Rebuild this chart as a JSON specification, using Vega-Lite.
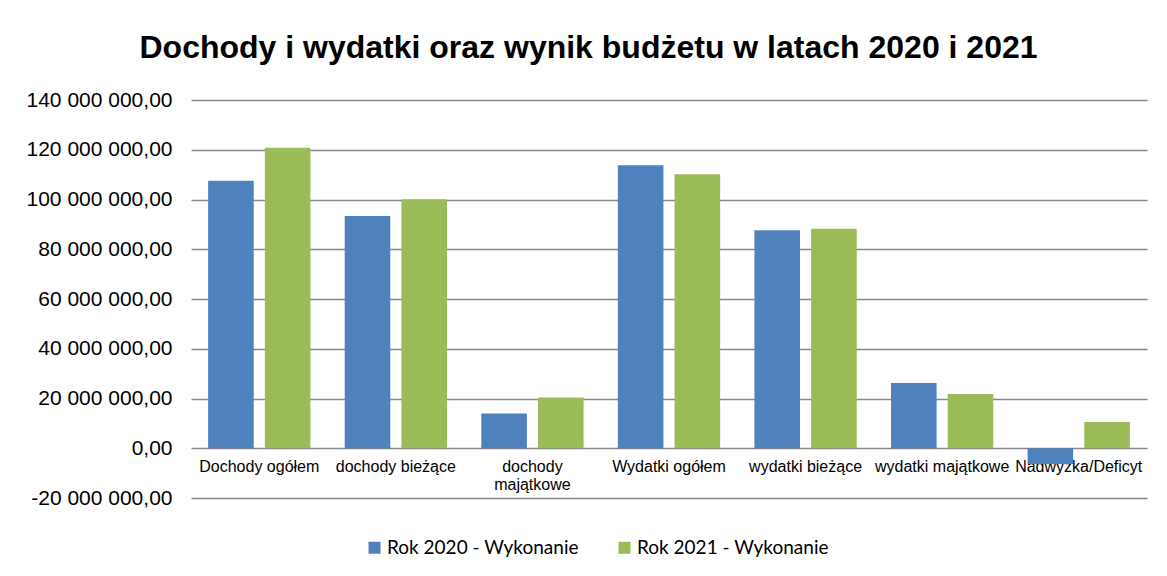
{
  "$schema": "https://vega.github.io/schema/vega-lite/v6.json",
  "autosize": {"type": "none"},
  "width": 956,
  "height": 398,
  "padding": {"left": 191, "top": 100, "right": 20, "bottom": 78},
  "background": "white",
  "title": {
    "text": "Dochody i wydatki oraz wynik budżetu w latach 2020 i 2021",
    "font": "Liberation Sans",
    "fontSize": 32,
    "fontWeight": "bold",
    "color": "#000000",
    "anchor": "middle",
    "frame": "bounds",
    "baseline": "alphabetic",
    "offset": -1,
    "dx": 2
  },
  "config": {
    "locale": {
      "number": {"decimal": ",", "thousands": " ", "grouping": [3], "currency": ["", ""], "minus": "-"}
    },
    "view": {"stroke": null}
  },
  "data": {
    "values": [
      {"kategoria": "Dochody ogółem", "seria": "Rok 2020  - Wykonanie", "wartosc": 107500000},
      {"kategoria": "Dochody ogółem", "seria": "Rok 2021 - Wykonanie", "wartosc": 120800000},
      {"kategoria": "dochody bieżące", "seria": "Rok 2020  - Wykonanie", "wartosc": 93400000},
      {"kategoria": "dochody bieżące", "seria": "Rok 2021 - Wykonanie", "wartosc": 100100000},
      {"kategoria": "dochody majątkowe", "seria": "Rok 2020  - Wykonanie", "wartosc": 14000000},
      {"kategoria": "dochody majątkowe", "seria": "Rok 2021 - Wykonanie", "wartosc": 20400000},
      {"kategoria": "Wydatki ogółem", "seria": "Rok 2020  - Wykonanie", "wartosc": 113800000},
      {"kategoria": "Wydatki ogółem", "seria": "Rok 2021 - Wykonanie", "wartosc": 110200000},
      {"kategoria": "wydatki bieżące", "seria": "Rok 2020  - Wykonanie", "wartosc": 87600000},
      {"kategoria": "wydatki bieżące", "seria": "Rok 2021 - Wykonanie", "wartosc": 88200000},
      {"kategoria": "wydatki majątkowe", "seria": "Rok 2020  - Wykonanie", "wartosc": 26200000},
      {"kategoria": "wydatki majątkowe", "seria": "Rok 2021 - Wykonanie", "wartosc": 21800000},
      {"kategoria": "Nadwyżka/Deficyt", "seria": "Rok 2020  - Wykonanie", "wartosc": -6300000},
      {"kategoria": "Nadwyżka/Deficyt", "seria": "Rok 2021 - Wykonanie", "wartosc": 10600000}
    ]
  },
  "mark": {"type": "bar"},
  "encoding": {
    "x": {
      "field": "kategoria",
      "type": "nominal",
      "sort": null,
      "scale": {"paddingInner": 0.251, "paddingOuter": 0.1255},
      "axis": {
        "title": null,
        "labelAngle": 0,
        "labelFont": "Liberation Sans",
        "labelFontSize": 16,
        "labelColor": "#000000",
        "labelPadding": 10,
        "labelLineHeight": 18,
        "labelLimit": 200,
        "labelExpr": "datum.value == 'dochody majątkowe' ? ['dochody', 'majątkowe'] : datum.label",
        "domain": false,
        "ticks": false,
        "grid": false,
        "offset": -50
      }
    },
    "xOffset": {
      "field": "seria",
      "type": "nominal",
      "scale": {"paddingInner": 0.196, "paddingOuter": 0}
    },
    "y": {
      "field": "wartosc",
      "type": "quantitative",
      "scale": {"domain": [-20000000, 140000000], "nice": false, "zero": false},
      "axis": {
        "title": null,
        "values": [-20000000, 0, 20000000, 40000000, 60000000, 80000000, 100000000, 120000000, 140000000],
        "format": ",.2f",
        "labelFont": "Liberation Sans",
        "labelFontSize": 21,
        "labelColor": "#000000",
        "labelPadding": 19,
        "domain": false,
        "ticks": false,
        "grid": true,
        "gridColor": "#888888",
        "gridWidth": 1.5
      }
    },
    "color": {
      "field": "seria",
      "type": "nominal",
      "scale": {"range": ["#4F81BD", "#9BBB59"]},
      "legend": {
        "title": null,
        "orient": "none",
        "direction": "horizontal",
        "legendX": 174,
        "legendY": 438,
        "symbolType": "square",
        "symbolSize": 144,
        "symbolStrokeWidth": 0,
        "symbolOpacity": 1,
        "labelFont": "Lato",
        "labelFontSize": 19,
        "labelColor": "#000000",
        "labelOffset": 3,
        "columnPadding": 31,
        "labelLimit": 300
      }
    }
  }
}
